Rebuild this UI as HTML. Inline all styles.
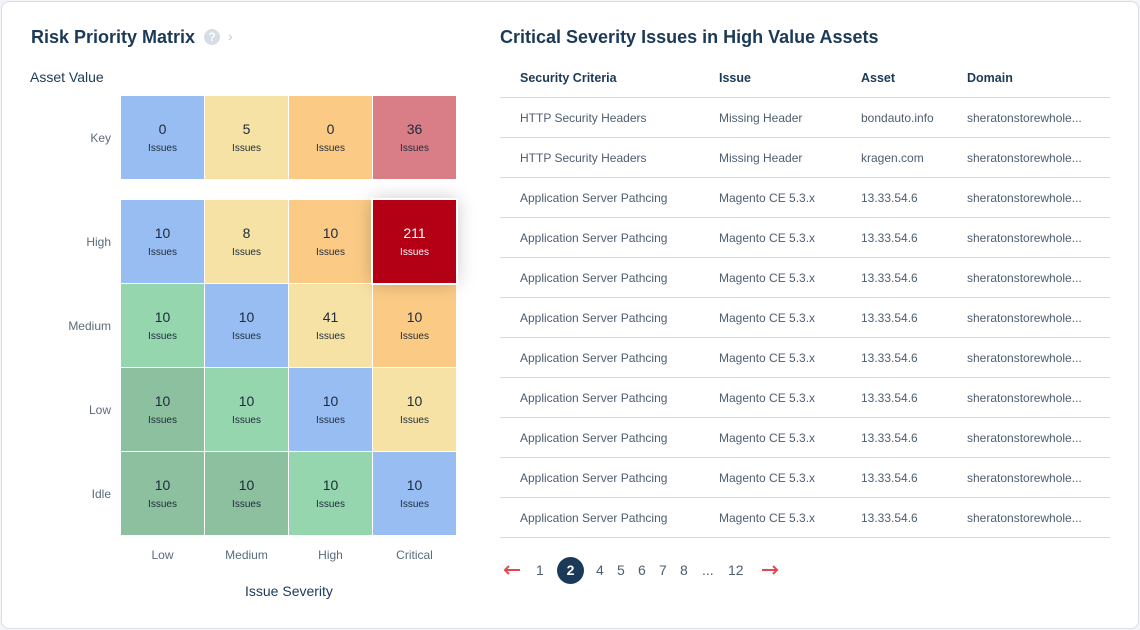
<!DOCTYPE html>
<html><head><meta charset="utf-8"><style>
body{margin:0;width:1140px;height:630px;background:#f3f5f8;font-family:"Liberation Sans",sans-serif;overflow:hidden}
.card{position:absolute;left:1px;top:1px;width:1136px;height:626px;background:#fff;border:1px solid #d8dee6;border-radius:8px}
.t{position:absolute;color:#1b3a57;white-space:nowrap}
.cell{position:absolute;text-align:center;color:#1b2b3a}
.cell .n{position:absolute;left:0;right:0;top:25px;font-size:14px}
.cell .l{position:absolute;left:0;right:0;top:47px;font-size:10px}
.row{position:absolute;left:500px;width:610px;height:40px;border-bottom:1px solid #d3dce6;font-size:12px;color:#4d5e70}
.row span{position:absolute;top:14px;white-space:nowrap}
.hdr span{font-weight:bold;color:#1b3a57;font-size:12.5px}
.pg{position:absolute;top:562px;font-size:14px;color:#4d5e70}
</style></head><body>
<div class="card"></div>
<div class="t" style="left:31px;top:27px;font-size:18px;font-weight:bold">Risk Priority Matrix</div>
<div style="position:absolute;left:204px;top:29px;width:16px;height:16px;border-radius:50%;background:#d7dde4;color:#fff;font-size:12px;font-weight:bold;text-align:center;line-height:16px">?</div>
<div style="position:absolute;left:228px;top:28px;color:#c5ccd4;font-size:14px">›</div>
<div class="t" style="left:30px;top:69px;font-size:14px">Asset Value</div>
<div class="t" style="left:245px;top:583px;font-size:14px">Issue Severity</div>
<div id="mx"></div>
<div class="t" style="left:500px;top:27px;font-size:18px;font-weight:bold">Critical Severity Issues in High Value Assets</div>
<div id="tb"></div>
<svg style="position:absolute;left:503px;top:564px" width="18" height="12"><path d="M17 6H2M6 2L2 6L6 10" stroke="#e0494f" stroke-width="2" fill="none"/></svg>
<div id="pages"></div>
<svg style="position:absolute;left:761px;top:564px" width="18" height="12"><path d="M1 6H16M12 2L16 6L12 10" stroke="#e0494f" stroke-width="2" fill="none"/></svg>
<script>
const rowLabels=["Key","High","Medium","Low","Idle"];
const colLabels=["Low","Medium","High","Critical"];
const counts=[[0,5,0,36],[10,8,10,211],[10,10,41,10],[10,10,10,10],[10,10,10,10]];
const levels=[[2,3,4,5],[2,3,4,6],[1,2,3,4],[0,1,2,3],[0,0,1,2]];
const palette=["#8cc09e","#96d6ae","#98bdf3","#f7e2a6","#fbcb86","#d97e87","#b30015"];
const mx=document.getElementById('mx');
const rowTop=[96,200,284,368,452];
for(let r=0;r<5;r++){
 const lab=document.createElement('div');lab.className='t';
 
 
 lab.style.cssText=`right:${1140-111}px;top:${rowTop[r]+35}px;font-size:12px;color:#5a6b7c`;
 lab.textContent=rowLabels[r];mx.appendChild(lab);
 for(let c=0;c<4;c++){
  const d=document.createElement('div');d.className='cell';
  
  
  const lv=levels[r][c];
  d.style.cssText=`left:${121+c*84}px;top:${rowTop[r]}px;width:83px;height:83px;background:${palette[lv]};${lv==6?'color:#fff;box-shadow:0 0 18px rgba(0,0,0,.25);outline:2px solid #fff;z-index:2':''}`;
  d.innerHTML=`<div class="n">${counts[r][c]}</div><div class="l">Issues</div>`;
  mx.appendChild(d);
 }
}
for(let c=0;c<4;c++){
 const l=document.createElement('div');l.className='t';
 
 
 l.style.cssText=`left:${121+c*84}px;width:83px;text-align:center;top:548px;font-size:12px;color:#5a6b7c`;
 l.textContent=colLabels[c];mx.appendChild(l);
}
const headers=["Security Criteria","Issue","Asset","Domain"];
const rows=[["HTTP Security Headers","Missing Header","bondauto.info"],["HTTP Security Headers","Missing Header","kragen.com"]];
for(let i=0;i<9;i++)rows.push(["Application Server Pathcing","Magento CE 5.3.x","13.33.54.6"]);
const colX=[20,219,361,467];
const tb=document.getElementById('tb');
const h=document.createElement('div');h.className='row hdr';


h.style.top='57px';
h.innerHTML=headers.map((x,i)=>`<span style="left:${colX[i]}px">${x}</span>`).join('');
tb.appendChild(h);
rows.forEach((r,i)=>{
 const d=document.createElement('div');d.className='row';
 
 
 d.style.top=(97+i*40)+'px';
 d.innerHTML=[r[0],r[1],r[2],'sheratonstorewhole...'].map((x,j)=>`<span style="left:${j==3?467:colX[j]}px">${x}</span>`).join('');
 tb.appendChild(d);
});
const pages=["1","2","4","5","6","7","8","...","12"];
const px=[536,566,596,617,638,659,680,702,728];
const pg=document.getElementById('pages');
pages.forEach((p,i)=>{
 const d=document.createElement('div');d.className='pg';
 
 
 d.textContent=p;
 if(p==="2"){d.style.cssText=`left:557px;top:557px;width:27px;height:27px;border-radius:50%;background:#1b3a57;color:#fff;text-align:center;line-height:27px;font-weight:bold`;}
 else d.style.left=px[i]+'px';
 pg.appendChild(d);
});
</script>
</body></html>
